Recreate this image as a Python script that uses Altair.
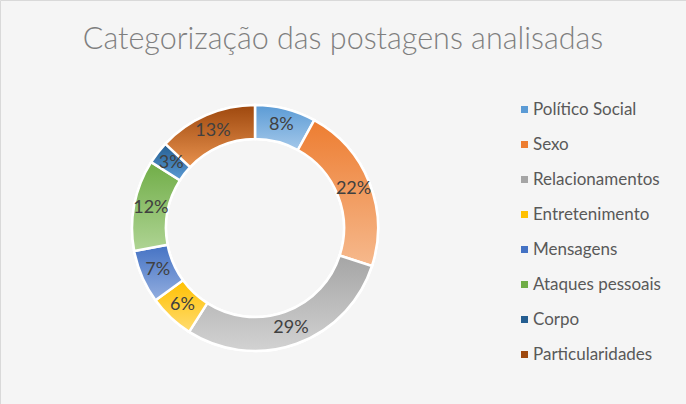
import math
import altair as alt
import pandas as pd

categories = ["Político Social", "Sexo", "Relacionamentos", "Entretenimento",
              "Mensagens", "Ataques pessoais", "Corpo", "Particularidades"]
values = [8, 22, 29, 6, 7, 12, 3, 13]
labels = ["8%", "22%", "29%", "6%", "7%", "12%", "3%", "13%"]
base_colors = ["#5B9BD5", "#ED7D31", "#A5A5A5", "#FFC000",
               "#4472C4", "#70AD47", "#255E91", "#9E480E"]
light_colors = ["#A4C8EA", "#F6B98D", "#D2D2D2", "#FFDC70",
                "#93AEDF", "#AFD494", "#5B9BD5", "#E8924E"]
title_text = "Categorização das postagens analisadas"

df = pd.DataFrame({"cat": categories, "val": values, "label": labels})
df["end"] = df["val"].cumsum()
df["start"] = df["end"] - df["val"]
df["mid"] = (df["start"] + df["end"]) / 2

CX, CY = 255, 228
R_OUT, R_IN = 123, 89
theta_scale = alt.Scale(domain=[0, 100], range=[0, 2 * math.pi])

base = alt.Chart(df).mark_arc(radius=R_OUT, radius2=R_IN, stroke="white", strokeWidth=2.5).encode(
    theta=alt.Theta("start:Q", scale=theta_scale),
    theta2="end:Q",
    x=alt.value(CX), y=alt.value(CY),
    color=alt.Color("cat:N", scale=alt.Scale(domain=categories, range=base_colors),
                    sort=categories,
                    legend=alt.Legend(title=None, orient="none", legendX=516, legendY=101,
                                      symbolType="square", symbolSize=49, symbolStrokeWidth=0,
                                      labelFontSize=17, labelFont="Lato", labelColor="#595959",
                                      rowPadding=17.0, labelOffset=0)),
)

layers = [base]
for c, b, l in zip(categories, base_colors, light_colors):
    g = alt.Gradient(gradient="linear",
                     stops=[alt.GradientStop(color=b, offset=0), alt.GradientStop(color=l, offset=1)],
                     x1=0, x2=0, y1=0, y2=1)
    layers.append(
        alt.Chart(df).transform_filter(alt.datum.cat == c)
        .mark_arc(radius=R_OUT, radius2=R_IN, stroke="white", strokeWidth=2.5, fill=g)
        .encode(theta=alt.Theta("start:Q", scale=theta_scale), theta2="end:Q",
                x=alt.value(CX), y=alt.value(CY))
    )

text = alt.Chart(df).mark_text(radius=(R_OUT + R_IN) / 2, fontSize=18, font="Lato", color="#404040").encode(
    theta=alt.Theta("mid:Q", scale=theta_scale),
    text="label:N",
    x=alt.value(CX), y=alt.value(CY),
)
layers.append(text)

title = alt.Chart(pd.DataFrame({"t": [title_text]})).mark_text(
    fontSize=30.5, font="Lato", fontWeight=300, color="#7F7F7F").encode(
    text="t:N", x=alt.value(343), y=alt.value(40))
layers.append(title)

chart = alt.layer(*layers).properties(
    width=686, height=404, padding=0, autosize="none", background="#F5F5F5"
).configure_view(stroke="#D9D9D9", fill="#F5F5F5")

chart.save("out.html", embed_options={"renderer": "svg", "actions": False})
